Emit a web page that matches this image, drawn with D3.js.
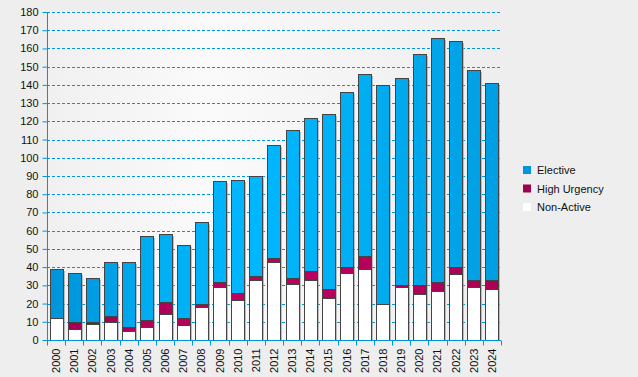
<!DOCTYPE html>
<html><head><meta charset="utf-8">
<script src="https://cdn.jsdelivr.net/npm/d3@7"></script>
<style>body{margin:0;background:#eeeeee;}svg{display:block;font-family:"Liberation Sans",Arial,sans-serif;}</style>
</head><body>
<svg id="c" width="638" height="377"></svg>
<script>
const years = ["2000","2001","2002","2003","2004","2005","2006","2007","2008","2009","2010","2011","2012","2013","2014","2015","2016","2017","2018","2019","2020","2021","2022","2023","2024"];
const totals = [39,37,34,43,43,57,58,52,65,87,88,90,107,115,122,124,136,146,140,144,157,166,164,148,141];
const nonActive = [12,6,9,10,5,7,14,8,18,29,22,33,43,31,33,23,37,39,20,29,25,27,36,29,28];
const highUrgency = [0,4,1,3,2,4,7,4,2,3,4,2,2,3,5,5,3,7,0,1,5,5,4,4,5];
const elective = totals.map((t,i)=>t-nonActive[i]-highUrgency[i]);
const yTicks = d3.range(0,181,10);
const seriesNames = ["Non-Active","High Urgency","Elective"];
const legendNames = ["Elective","High Urgency","Non-Active"];

const svg = d3.select("#c");
const L=47,R=501,T=12,B=340;
const x = d3.scaleBand().domain(years).range([L,R]).paddingInner(0.28).paddingOuter(0.14);
const y = d3.scaleLinear().domain([0,180]).range([B,T]);

const defs = svg.append("defs");
const bg = defs.append("linearGradient").attr("id","bg").attr("gradientUnits","userSpaceOnUse").attr("x1",L).attr("x2",R).attr("y1",0).attr("y2",0);
[[0,"#f0f0f0"],[0.35,"#fafafa"],[0.7,"#f3f3f3"],[1,"#eeeeee"]].forEach(s=>bg.append("stop").attr("offset",s[0]).attr("stop-color",s[1]));
const gE = defs.append("linearGradient").attr("id","gE").attr("gradientUnits","userSpaceOnUse").attr("x1",L).attr("x2",R).attr("y1",0).attr("y2",0);
[[0,"#0094d8"],[0.1,"#009ce2"],[0.22,"#00adf2"],[0.45,"#00b7ff"],[0.7,"#00aef2"],[1,"#009ee2"]].forEach(s=>gE.append("stop").attr("offset",s[0]).attr("stop-color",s[1]));
const gH = defs.append("linearGradient").attr("id","gH").attr("gradientUnits","userSpaceOnUse").attr("x1",L).attr("x2",R).attr("y1",0).attr("y2",0);
[[0,"#a0004f"],[0.45,"#bf0062"],[1,"#aa0054"]].forEach(s=>gH.append("stop").attr("offset",s[0]).attr("stop-color",s[1]));

svg.append("rect").attr("x",L).attr("y",T).attr("width",R-L).attr("height",B-T).attr("fill","url(#bg)");

// grid
svg.append("g").selectAll("line").data(yTicks.filter(d=>d>0)).join("line")
  .attr("x1",L).attr("x2",R).attr("y1",d=>Math.round(y(d))+0.5).attr("y2",d=>Math.round(y(d))+0.5)
  .attr("stroke","#0096dc").attr("stroke-dasharray","3,2");

const stack = d3.stack().keys([0,1,2]).value((d,k)=>[nonActive,highUrgency,elective][k][d])(d3.range(years.length));
const fills = ["#ffffff","url(#gH)","url(#gE)"];

// shadows
svg.append("g").selectAll("rect").data(years).join("rect")
  .attr("x",d=>Math.round(x(d))+2).attr("y",(d,i)=>Math.round(y(totals[i]))+2)
  .attr("width",Math.round(x.bandwidth())).attr("height",(d,i)=>B-Math.round(y(totals[i]))-2)
  .attr("fill","#999").attr("opacity",0.6);

stack.forEach((s,k)=>{
  svg.append("g").selectAll("rect").data(s).join("rect")
    .attr("x",d=>Math.round(x(years[d.data]))+0.5)
    .attr("y",d=>Math.round(y(d[1]))+0.5)
    .attr("width",Math.round(x.bandwidth()))
    .attr("height",d=>Math.max(0,Math.round(y(d[0]))-Math.round(y(d[1]))))
    .attr("fill",fills[k]).attr("stroke","#444").attr("stroke-width",1)
    .style("display",d=>d[1]-d[0]>0?null:"none");
});

// axes
const ya = svg.append("g").attr("transform",`translate(${L+0.5},0)`).call(d3.axisLeft(y).tickValues(yTicks).tickSize(5).tickPadding(4));
ya.select(".domain").attr("stroke","#0096dc").attr("d",`M0,${T}V${B}`);
ya.selectAll(".tick line").attr("stroke","#0096dc");
ya.selectAll(".tick text").attr("fill","#111").style("font-size","11px");

const xa = svg.append("g").attr("transform",`translate(0,${B+0.5})`);
xa.append("line").attr("x1",L).attr("x2",R).attr("stroke","#0096dc");
const step = x.step();
xa.selectAll(".tk").data(d3.range(years.length+1)).join("line")
  .attr("x1",i=>Math.round(L+i*step)+0.5).attr("x2",i=>Math.round(L+i*step)+0.5).attr("y1",0).attr("y2",5).attr("stroke","#0096dc");
xa.selectAll("text").data(years).join("text")
  .attr("transform",d=>`translate(${x(d)+x.bandwidth()/2+4},8) rotate(-90)`)
  .attr("text-anchor","end").attr("fill","#111").style("font-size","11px").text(d=>d);

// legend
const legColors = ["#0096dc","#a0004f","#ffffff"];
const lg = svg.append("g").selectAll("g").data(legendNames).join("g")
  .attr("transform",(d,i)=>`translate(523,${166+i*18.5})`);
lg.append("rect").attr("width",8).attr("height",8).attr("fill",(d,i)=>legColors[i]);
lg.append("text").attr("x",14).attr("y",8).attr("fill","#111").style("font-size","11px").text(d=>d);
</script>
</body></html>
